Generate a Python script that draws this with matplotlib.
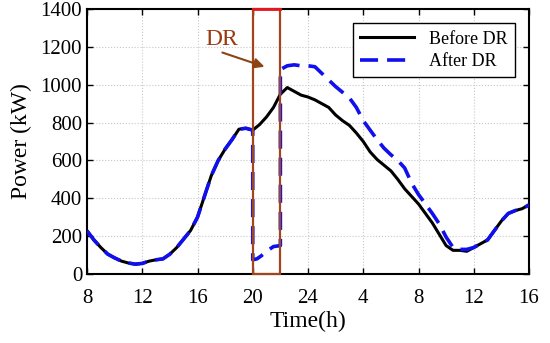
import numpy as np
import matplotlib.pyplot as plt
from matplotlib.patches import Rectangle

plt.rcParams['font.family'] = ['Liberation Serif', 'DejaVu Serif']

# Load before demand response (hours counted from 8:00 of day 1)
hours_before = [8, 8.5, 9, 9.5, 10, 10.5, 11, 11.5, 12, 12.5, 13, 13.5, 14, 14.5, 15, 15.5,
                16, 16.5, 17, 17.5, 18, 18.5, 19, 19.5, 20, 20.5, 21, 21.5, 22, 22.5, 23, 23.5,
                24, 24.5, 25, 25.5, 26, 26.5, 27, 27.5, 28, 28.5, 29, 29.5, 30, 30.5, 31, 31.5,
                32, 32.5, 33, 33.5, 34, 34.5, 35, 35.5, 36, 36.5, 37, 37.5, 38, 38.5, 39, 39.5, 40]
load_before = [228, 180, 140, 105, 85, 68, 58, 52, 56, 68, 75, 80, 105, 140, 185, 230,
               300, 410, 520, 600, 660, 710, 765, 770, 760, 790, 830, 880, 950, 985, 965, 945,
               935, 920, 900, 880, 840, 810, 785, 745, 700, 645, 605, 575, 545, 500, 450, 410,
               370, 320, 270, 210, 150, 125, 125, 120, 140, 160, 180, 230, 280, 320, 335, 345, 365]

# Load after demand response
hours_after = [8, 8.5, 9, 9.5, 10, 10.5, 11, 11.5, 12, 12.5, 13, 13.5, 14, 14.5, 15, 15.5,
               16, 16.5, 17, 17.5, 18, 18.5, 19, 19.5, 20, 20, 20.3, 20.6, 21, 21.5, 22, 22,
               22.5, 23, 23.5, 24, 24.5, 25, 25.5, 26, 26.5, 27, 27.5, 28, 28.5, 29, 29.5, 30,
               30.5, 31, 31.5, 32, 32.5, 33, 33.5, 34, 34.5, 35, 35.5, 36, 36.5, 37, 37.5, 38,
               38.5, 39, 39.5, 40]
load_after = [228, 180, 140, 105, 85, 68, 58, 52, 56, 68, 75, 80, 105, 140, 185, 230,
              300, 410, 520, 600, 660, 710, 765, 770, 760, 75, 80, 95, 120, 145, 150, 1080,
              1100, 1105, 1100, 1100, 1095, 1060, 1025, 990, 960, 930, 880, 810, 760, 710, 665, 630,
              600, 560, 480, 420, 370, 320, 265, 195, 140, 130, 130, 140, 160, 180, 230, 280,
              320, 335, 345, 365]

xticks = [8, 12, 16, 20, 24, 28, 32, 36, 40]
xticklabels = ['8', '12', '16', '20', '24', '4', '8', '12', '16']
dr_start, dr_end = 20, 22

fig = plt.figure(figsize=(5.5, 3.43), dpi=100)
ax = fig.add_axes([87/550, 1 - 274/343, 442/550, 265/343])

ax.plot(hours_before, load_before, color='black', lw=2.2, label='Before DR', zorder=3)
ax.plot(hours_after, load_after, color='#1010ee', lw=2.6, ls=(0, (5, 2.5)),
        label='After DR', zorder=4)

# DR window
ax.add_patch(Rectangle((dr_start, 0), dr_end - dr_start, 1400, fill=False,
                       edgecolor='#a0461e', lw=1.6, zorder=5, clip_on=False))
ax.plot([dr_start, dr_end], [1400, 1400], color='#e8141e', lw=2, zorder=6, clip_on=False)
ax.text(17.75, 1240, 'DR', color='#9a3a10', fontsize=17, ha='center', va='center', zorder=7)
ax.annotate('', xy=(20.85, 1095), xytext=(17.8, 1170),
            arrowprops=dict(arrowstyle='-|>', color='#8b4513', lw=1.5, mutation_scale=15,
                            shrinkA=0, shrinkB=0), zorder=7)

ax.set_xlim(8, 40)
ax.set_ylim(0, 1400)
ax.set_xticks(xticks)
ax.set_xticklabels(xticklabels)
ax.set_yticks(np.arange(0, 1401, 200))
ax.tick_params(direction='in', labelsize=15, top=True, right=True, length=4, width=1)
ax.tick_params(axis='x', pad=11)
ax.grid(True, ls=':', color='#c8c8c8', lw=0.8)
for s in ax.spines.values():
    s.set_linewidth(1.5)

ax.set_xlabel('Time(h)', fontsize=17, labelpad=2)
ax.set_ylabel('Power (kW)', fontsize=17, labelpad=6)

leg = ax.legend(loc='upper right', fontsize=13, fancybox=False, framealpha=1,
                edgecolor='black', borderaxespad=0.8, handlelength=3.0, labelspacing=0.3)
leg.get_frame().set_linewidth(1)

fig.savefig('out.png', dpi=100)
